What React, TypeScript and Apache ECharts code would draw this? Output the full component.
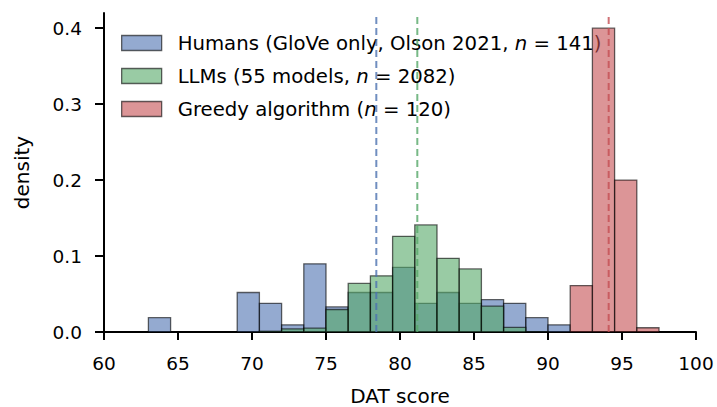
import React, { useEffect, useRef } from "react";
import * as echarts from "echarts";

// Histogram bin edges (DAT score), shared by all three groups
const binEdges = [63, 64.5, 66, 67.5, 69, 70.5, 72, 73.5, 75, 76.5, 78, 79.5, 81, 82.5, 84, 85.5, 87, 88.5, 90, 91.5, 93, 94.5, 96, 97.5];

// Densities per bin (23 bins)
const humansDensity = [0.0189, 0, 0, 0, 0.052, 0.0378, 0.0095, 0.0898, 0.0331, 0.052, 0.052, 0.0851, 0.0378, 0.052, 0.0378, 0.0426, 0.0378, 0.0189, 0.0095, 0, 0, 0, 0];
const llmsDensity = [0, 0, 0, 0, 0, 0.001, 0.004, 0.005, 0.0296, 0.064, 0.074, 0.126, 0.141, 0.097, 0.083, 0.034, 0.006, 0.0005, 0, 0, 0, 0, 0];
const greedyDensity = [0, 0, 0, 0, 0, 0, 0, 0, 0, 0, 0, 0, 0, 0, 0, 0, 0, 0, 0, 0.0611, 0.4, 0.2, 0.0056];

// Means (dashed vertical lines)
const humansMean = 78.4;
const llmsMean = 81.17;
const greedyMean = 94.1;

const seriesNames = [
  "Humans (GloVe only, Olson 2021, n = 141)",
  "LLMs (55 models, n = 2082)",
  "Greedy algorithm (n = 120)",
];
const legendRich = [
  "Humans (GloVe only, Olson 2021, {i|n} = 141)",
  "LLMs (55 models, {i|n} = 2082)",
  "Greedy algorithm ({i|n} = 120)",
];
const baseColors = ["#4C72B0", "#55A868", "#C44E52"];
const fillColors = ["rgba(76,114,176,0.6)", "rgba(85,168,104,0.6)", "rgba(196,78,82,0.6)"];

const xTicks = [60, 65, 70, 75, 80, 85, 90, 95, 100];
const yTicks = [0, 0.1, 0.2, 0.3, 0.4];
const yMax = 0.42;

const FONT = "DejaVu Sans";

function histData(dens: number[]) {
  const out: number[][] = [];
  dens.forEach((d, i) => {
    if (d > 0) out.push([binEdges[i], binEdges[i + 1], d]);
  });
  return out;
}

export default function App() {
  const ref = useRef<HTMLDivElement>(null);
  useEffect(() => {
    if (!ref.current) return;
    const chart = echarts.init(ref.current, null, { renderer: "svg" });
    const densities = [humansDensity, llmsDensity, greedyDensity];
    const means = [humansMean, llmsMean, greedyMean];

    const histSeries = densities.map((dens, k) => ({
      type: "custom",
      name: seriesNames[k],
      data: histData(dens),
      encode: { x: [0, 1], y: 2 },
      z: 2 + k,
      renderItem: (params: any, api: any) => {
        const p0 = api.coord([api.value(0), 0]);
        const p1 = api.coord([api.value(1), api.value(2)]);
        return {
          type: "rect",
          shape: { x: p0[0], y: p1[1], width: p1[0] - p0[0], height: p0[1] - p1[1] },
          style: { fill: fillColors[k], stroke: "rgba(0,0,0,0.6)", lineWidth: 1.3 },
        };
      },
    }));

    const meanSeries = means.map((m, k) => ({
      type: "line",
      name: "mean" + k,
      data: [[m, 0], [m, yMax]],
      symbol: "none",
      z: 10,
      lineStyle: { color: baseColors[k], width: 2, type: [7, 4], opacity: 0.8 },
      silent: true,
    }));

    chart.setOption({
      animation: false,
      textStyle: { fontFamily: FONT },
      grid: { left: 104, right: 21, top: 13, bottom: 75, outerBoundsMode: "none", containLabel: false },
      legend: {
        orient: "vertical",
        left: 116,
        top: 27,
        itemWidth: 40,
        itemHeight: 15,
        itemGap: 11,
        data: seriesNames.map((n, k) => ({
          name: n,
          icon: "rect",
          itemStyle: { color: fillColors[k], borderColor: "rgba(0,0,0,0.6)", borderWidth: 1.3 },
        })),
        formatter: (name: string) => legendRich[seriesNames.indexOf(name)],
        textStyle: {
          fontFamily: FONT,
          fontSize: 19.7,
          color: "#000",
          lineHeight: 22,
          padding: [0, 0, 0, 11],
          rich: { i: { fontStyle: "italic", fontFamily: FONT, fontSize: 19.7, color: "#000" } },
        },
        selectedMode: false,
      },
      xAxis: {
        type: "value",
        min: 60,
        max: 100,
        interval: 5,
        name: "DAT score",
        nameLocation: "middle",
        nameGap: 54,
        nameTextStyle: { fontFamily: FONT, fontSize: 20, lineHeight: 20, color: "#000" },
        splitLine: { show: false },
        axisLine: { show: true, onZero: false, lineStyle: { color: "#000", width: 2 } },
        axisTick: { show: true, length: 8, lineStyle: { color: "#000", width: 2 }, customValues: xTicks },
        axisLabel: { fontFamily: FONT, fontSize: 18.5, color: "#000", margin: 22, customValues: xTicks },
      },
      yAxis: {
        type: "value",
        min: 0,
        max: yMax,
        name: "density",
        nameLocation: "middle",
        nameGap: 72,
        nameTextStyle: { fontFamily: FONT, fontSize: 20, color: "#000" },
        splitLine: { show: false },
        axisLine: { show: true, lineStyle: { color: "#000", width: 2 } },
        axisTick: { show: true, length: 9, lineStyle: { color: "#000", width: 2 }, customValues: yTicks },
        axisLabel: {
          fontFamily: FONT,
          fontSize: 18.5,
          color: "#000",
          margin: 22,
          customValues: yTicks,
          formatter: (v: number) => v.toFixed(1),
        },
      },
      series: [...histSeries, ...meanSeries],
    });
    return () => chart.dispose();
  }, []);
  return <div ref={ref} style={{ position: "absolute", left: 0, top: 0, width: 717, height: 407 }} />;
}
